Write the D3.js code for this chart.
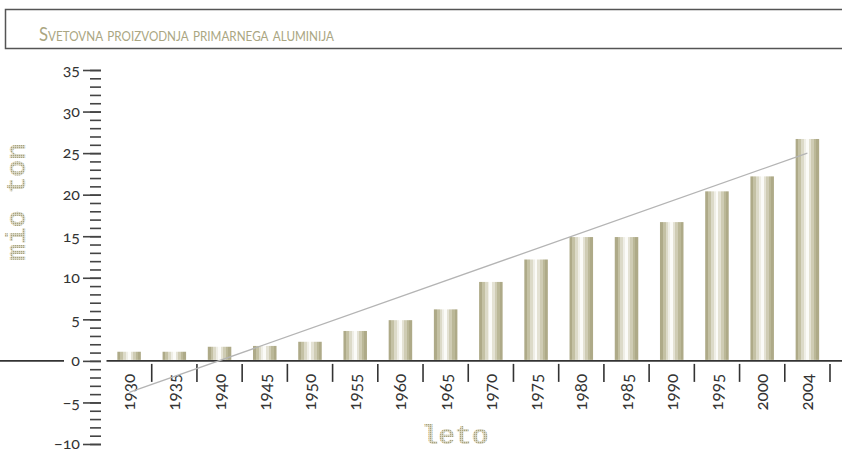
<!DOCTYPE html>
<html>
<head>
<meta charset="utf-8">
<script src="https://cdn.jsdelivr.net/npm/d3@7"></script>
<style>
    body { margin: 0; background: #fff; }
    svg { display: block; }
    .tickLabel { font-family: Lato, "Noto Sans", sans-serif; font-size: 16px; fill: #333;
                 font-variant-numeric: oldstyle-nums; }
    .yearLabel { font-size: 17px; }
</style>
</head>
<body>
<div id="chart"></div>
<script>
const ctx = {
    W: 842,
    H: 451,
    OLIVE: "#aaa682",
};

// data (mio ton)
const years = ["1930", "1935", "1940", "1945", "1950", "1955", "1960", "1965",
               "1970", "1975", "1980", "1985", "1990", "1995", "2000", "2004"];
const production = [1.1, 1.1, 1.7, 1.8, 2.3, 3.6, 4.9, 6.2,
                    9.5, 12.2, 14.9, 14.9, 16.7, 20.4, 22.2, 26.7];
const trendYears = ["1930", "2004"];
const trendValues = [-3.8, 25.0];
const yTicks = [-10, -5, 0, 5, 10, 15, 20, 25, 30, 35];
const title = "Svetovna proizvodnja primarnega aluminija";

function createViz() {
    const svg = d3.select("#chart")
        .append("svg")
        .attr("width", ctx.W)
        .attr("height", ctx.H);

    const defs = svg.append("defs");

    // striped "cylinder" fill of the bars
    const grad = defs.append("linearGradient").attr("id", "barGrad");
    const stops = [
        [0, "#aeaa88"], [0.12, "#aeaa88"], [0.12, "#c4c1a4"], [0.24, "#c4c1a4"],
        [0.24, "#dcdac8"], [0.36, "#dcdac8"], [0.36, "#efeee6"], [0.44, "#efeee6"],
        [0.44, "#fbfbf8"], [0.56, "#fbfbf8"], [0.56, "#e4e2d4"], [0.66, "#e4e2d4"],
        [0.66, "#cfccb4"], [0.78, "#cfccb4"], [0.78, "#bbb898"], [0.88, "#bbb898"],
        [0.88, "#aeaa88"], [1, "#aeaa88"]
    ];
    grad.selectAll("stop")
        .data(stops)
        .enter()
        .append("stop")
        .attr("offset", d => d[0])
        .attr("stop-color", d => d[1]);

    // dotted fill for the axis titles
    const pat = defs.append("pattern")
        .attr("id", "dots")
        .attr("patternUnits", "userSpaceOnUse")
        .attr("width", 2).attr("height", 2);
    pat.append("rect").attr("width", 2).attr("height", 2).attr("fill", "#e4e2d5");
    pat.append("rect").attr("width", 1.3).attr("height", 1.3).attr("fill", "#a8a47f");

    // title box
    svg.append("rect")
        .attr("x", 5.5).attr("y", 9.5)
        .attr("width", 860).attr("height", 39)
        .attr("fill", "none")
        .attr("stroke", "#555")
        .attr("stroke-width", 1.5);

    svg.append("text")
        .attr("x", 39).attr("y", 41)
        .attr("textLength", 295)
        .attr("lengthAdjust", "spacingAndGlyphs")
        .style("font-family", "Lato, \"Noto Sans\", sans-serif")
        .style("font-size", "20px")
        .style("font-variant", "small-caps")
        .attr("fill", ctx.OLIVE)
        .text(title);

    const y = d3.scaleLinear().domain([-10, 35]).range([444, 70]);
    const x = d3.scaleBand().domain(years).range([106.5, 830])
        .paddingInner(0.48).paddingOuter(0.24);
    const xb = d3.scaleBand().domain(years).range([106.5, 830]);
    const y0 = y(0);

    // y axis: minor and major ticks, no spine
    const axisX = 101;
    svg.append("g")
        .attr("transform", `translate(${axisX},0)`)
        .call(d3.axisLeft(y).tickValues(d3.range(-10, 36)).tickSize(11).tickFormat(""))
        .call(g => g.select(".domain").remove())
        .call(g => g.selectAll("line").attr("stroke", "#444").attr("stroke-width", 1.6));

    svg.append("g")
        .attr("transform", `translate(${axisX},0)`)
        .call(d3.axisLeft(y).tickValues(yTicks).tickSize(18).tickPadding(3))
        .call(g => g.select(".domain").remove())
        .call(g => g.selectAll("line").attr("stroke", "#444").attr("stroke-width", 1.6))
        .call(g => g.selectAll("text").attr("class", "tickLabel").attr("fill", null).attr("dy", "0.3em"));

    // zero line, left part and main part
    svg.append("line")
        .attr("x1", 0).attr("x2", 64)
        .attr("y1", y0).attr("y2", y0)
        .attr("stroke", "#333").attr("stroke-width", 1.6);
    svg.append("line")
        .attr("x1", 106.5).attr("x2", ctx.W)
        .attr("y1", y0).attr("y2", y0)
        .attr("stroke", "#333").attr("stroke-width", 1.6);

    // bars
    svg.append("g")
        .selectAll("rect")
        .data(years)
        .enter()
        .append("rect")
        .attr("x", d => x(d))
        .attr("width", x.bandwidth())
        .attr("y", (d, i) => y(production[i]))
        .attr("height", (d, i) => y0 - y(production[i]) - 1)
        .attr("fill", "url(#barGrad)");

    // category separators below the axis
    svg.append("g")
        .selectAll("line")
        .data(years)
        .enter()
        .append("line")
        .attr("x1", d => xb(d) + xb.bandwidth())
        .attr("x2", d => xb(d) + xb.bandwidth())
        .attr("y1", y0 + 3).attr("y2", y0 + 21)
        .attr("stroke", "#333").attr("stroke-width", 1.6);

    // year labels
    svg.append("g")
        .selectAll("text")
        .data(years)
        .enter()
        .append("text")
        .attr("class", "tickLabel yearLabel")
        .attr("text-anchor", "end")
        .attr("transform", d => `translate(${x(d) + x.bandwidth() / 2 + 6},${y0 + 13}) rotate(-90)`)
        .text(d => d);

    // trend line
    svg.append("line")
        .attr("x1", xb(trendYears[0]) + xb.bandwidth() / 2)
        .attr("y1", y(trendValues[0]))
        .attr("x2", xb(trendYears[1]) + xb.bandwidth() / 2)
        .attr("y2", y(trendValues[1]))
        .attr("stroke", "#b4b4b4")
        .attr("stroke-width", 1.3);

    // axis titles
    svg.append("text")
        .attr("transform", "translate(25,202) rotate(-90)")
        .attr("text-anchor", "middle")
        .style("font-family", "\"Liberation Mono\", monospace")
        .style("font-weight", "bold")
        .style("font-size", "28px")
        .attr("fill", "url(#dots)")
        .text("mio ton");

    svg.append("text")
        .attr("x", 455).attr("y", 444)
        .attr("text-anchor", "middle")
        .style("font-family", "\"Liberation Mono\", monospace")
        .style("font-weight", "bold")
        .style("font-size", "28px")
        .attr("fill", "url(#dots)")
        .text("leto");
}

createViz();
</script>
</body>
</html>
